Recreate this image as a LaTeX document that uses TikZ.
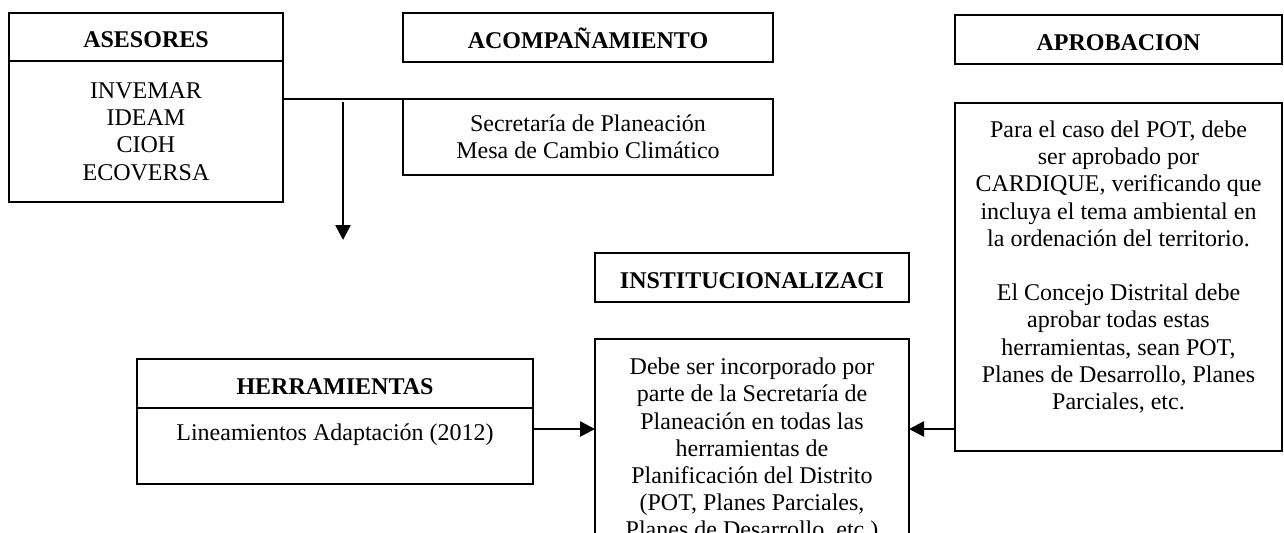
\documentclass[tikz,border=0pt]{standalone}
\usepackage{fontspec}
\setmainfont{Liberation Serif}
\usetikzlibrary{arrows.meta}
\newcommand\pxu{0.5pt}
\begin{document}
\begin{tikzpicture}[x=0.5pt, y=-0.5pt,
  wh/.style 2 args={minimum width=#1*\pxu, minimum height=#2*\pxu},
  box/.style={draw, line width=1pt, inner sep=0pt, outer sep=0pt, align=center, font=\fontsize{12}{13.6}\selectfont},
  ttl/.style={box, font=\fontsize{12}{13.6}\selectfont\bfseries, text height=10.6pt, text depth=0pt},
  txt/.style={inner sep=0pt, align=center, font=\fontsize{12}{13.6}\selectfont},
  arr/.style={line width=1.3pt, -{Triangle[length=7.5pt,width=7.5pt]}},
  link/.style={line width=1pt}]
\useasboundingbox (0,0) rectangle (1284,532);
\clip (0,0) rectangle (1284,532);
\fill[white] (0,0) rectangle (1284,532);

\node[ttl, wh={274}{48}] (asesT) at (146,37) {ASESORES};
\node[box, wh={274}{141}] (asesB) at (146,131.5) {INVEMAR\\IDEAM\\CIOH\\ECOVERSA};
\node[ttl, wh={370}{49}] (acompT) at (588,37.5) {ACOMPAÑAMIENTO};
\node[box, wh={370}{76}] (sec) at (588,137) {Secretaría de Planeación\\Mesa de Cambio Climático};
\node[ttl, wh={327}{49}] (aprobT) at (1118.5,39.5) {APROBACION};
\node[box, wh={327}{348}] (aprobB) at (1118.5,277) {};
\node[txt] (aprobX) at (1118.5,267) {Para el caso del POT, debe\\ser aprobado por\\CARDIQUE, verificando que\\incluya el tema ambiental en\\la ordenación del territorio.\\[13.6pt]El Concejo Distrital debe\\aprobar todas estas\\herramientas, sean POT,\\Planes de Desarrollo, Planes\\Parciales, etc.};
\node[ttl, wh={314}{49}] (inst) at (752,277.5) {INSTITUCIONALIZACI};
\node[box, wh={314}{223}] (debe) at (752,450.5) {Debe ser incorporado por\\parte de la Secretaría de\\Planeación en todas las\\herramientas de\\Planificación del Distrito\\(POT, Planes Parciales,\\Planes de Desarrollo, etc.)};
\node[ttl, wh={396}{49}] (herrT) at (335,383.5) {HERRAMIENTAS};
\node[box, wh={396}{76}] (herrB) at (335,446) {Lineamientos Adaptación (2012)\\\mbox{}};

\draw[link] (asesB.east |- sec.north west) -- (sec.north west);
\coordinate (d1) at (343,102);
\coordinate (d2) at (343,240);
\draw[arr] (d1) -- (d2);
\coordinate (ay) at (0,429);
\draw[arr] (herrB.east |- ay) -- (debe.west |- ay);
\draw[arr] (aprobB.west |- ay) -- (debe.east |- ay);
\end{tikzpicture}
\end{document}
